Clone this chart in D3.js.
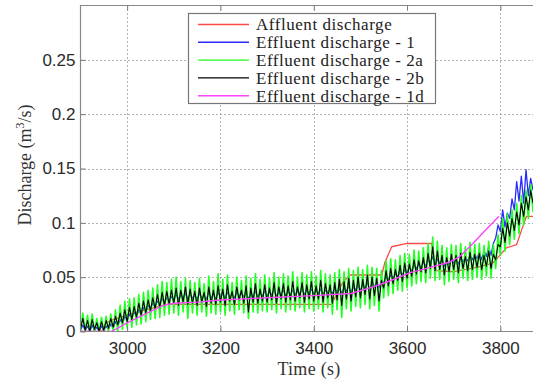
<!DOCTYPE html>
<html>
<head>
<meta charset="utf-8">
<script src="https://cdn.jsdelivr.net/npm/d3@7"></script>
<style>
  body { margin: 0; background: #fff; }
</style>
</head>
<body>
<script>
// sampled series: one value every dt seconds starting at t0
const t0 = 2900, dt = 5;

const effluent1 = [
  0.001, 0.006, 0.001, 0.005, 0.000, 0.006, 0.001, 0.004, 0.000, 0.005,
  0.001, 0.005, 0.002, 0.007, 0.003, 0.009, 0.005, 0.011, 0.007, 0.014,
  0.010, 0.016, 0.012, 0.018, 0.014, 0.020, 0.016, 0.022, 0.018, 0.024,
  0.021, 0.026, 0.023, 0.028, 0.025, 0.030, 0.027, 0.031, 0.028, 0.032,
  0.029, 0.034, 0.030, 0.033, 0.031, 0.035, 0.030, 0.034, 0.031, 0.033,
  0.030, 0.035, 0.031, 0.033, 0.030, 0.036, 0.031, 0.034, 0.030, 0.036,
  0.032, 0.035, 0.031, 0.036, 0.032, 0.034, 0.031, 0.036, 0.033, 0.035,
  0.032, 0.036, 0.030, 0.035, 0.032, 0.037, 0.032, 0.035, 0.033, 0.037,
  0.033, 0.036, 0.034, 0.038, 0.033, 0.036, 0.034, 0.038, 0.033, 0.037,
  0.034, 0.038, 0.034, 0.037, 0.035, 0.039, 0.034, 0.038, 0.035, 0.039,
  0.035, 0.038, 0.035, 0.039, 0.034, 0.038, 0.036, 0.039, 0.035, 0.040,
  0.036, 0.041, 0.035, 0.040, 0.037, 0.042, 0.036, 0.041, 0.038, 0.043,
  0.038, 0.043, 0.040, 0.045, 0.039, 0.044, 0.041, 0.045, 0.040, 0.046,
  0.045, 0.050, 0.047, 0.052, 0.049, 0.053, 0.051, 0.055, 0.052, 0.057,
  0.054, 0.059, 0.056, 0.061, 0.058, 0.062, 0.059, 0.064, 0.060, 0.066,
  0.063, 0.069, 0.061, 0.067, 0.062, 0.066, 0.060, 0.065, 0.062, 0.067,
  0.063, 0.067, 0.062, 0.068, 0.064, 0.068, 0.065, 0.070, 0.066, 0.071,
  0.067, 0.073, 0.066, 0.074, 0.069, 0.078, 0.070, 0.081, 0.086, 0.098,
  0.092, 0.112, 0.096, 0.109, 0.104, 0.122, 0.112, 0.138, 0.120, 0.143,
  0.118, 0.149, 0.125, 0.141, 0.130
];

const effluent2a = [
  0.000, 0.017, 0.000, 0.015, 0.000, 0.016, 0.000, 0.012, 0.000, 0.013,
  0.000, 0.014, 0.000, 0.016, 0.000, 0.020, 0.000, 0.024, 0.002, 0.028,
  0.003, 0.030, 0.004, 0.031, 0.006, 0.034, 0.007, 0.036, 0.009, 0.038,
  0.011, 0.040, 0.012, 0.043, 0.013, 0.046, 0.015, 0.045, 0.016, 0.048,
  0.017, 0.050, 0.015, 0.046, 0.018, 0.049, 0.012, 0.047, 0.017, 0.045,
  0.015, 0.049, 0.018, 0.044, 0.014, 0.051, 0.017, 0.046, 0.016, 0.053,
  0.018, 0.048, 0.015, 0.052, 0.019, 0.045, 0.016, 0.050, 0.020, 0.047,
  0.017, 0.051, 0.012, 0.049, 0.018, 0.053, 0.017, 0.048, 0.019, 0.052,
  0.018, 0.049, 0.020, 0.054, 0.017, 0.050, 0.021, 0.053, 0.018, 0.051,
  0.020, 0.055, 0.019, 0.050, 0.022, 0.054, 0.018, 0.052, 0.021, 0.055,
  0.019, 0.051, 0.021, 0.056, 0.018, 0.053, 0.022, 0.052, 0.016, 0.054,
  0.020, 0.057, 0.013, 0.055, 0.021, 0.058, 0.019, 0.056, 0.023, 0.059,
  0.022, 0.057, 0.025, 0.061, 0.021, 0.059, 0.024, 0.058, 0.019, 0.056,
  0.031, 0.065, 0.033, 0.067, 0.035, 0.066, 0.038, 0.070, 0.037, 0.072,
  0.040, 0.071, 0.042, 0.075, 0.044, 0.074, 0.046, 0.077, 0.045, 0.081,
  0.049, 0.087, 0.047, 0.083, 0.048, 0.079, 0.043, 0.077, 0.046, 0.080,
  0.048, 0.079, 0.045, 0.081, 0.049, 0.078, 0.047, 0.082, 0.048, 0.080,
  0.050, 0.081, 0.048, 0.079, 0.051, 0.083, 0.049, 0.080, 0.058, 0.089,
  0.070, 0.104, 0.074, 0.108, 0.080, 0.112, 0.085, 0.118, 0.090, 0.125,
  0.098, 0.130, 0.104, 0.135, 0.110
];

const effluent2b = [
  0.002, 0.012, 0.001, 0.010, 0.000, 0.011, 0.002, 0.008, 0.000, 0.009,
  0.001, 0.010, 0.003, 0.012, 0.004, 0.014, 0.006, 0.017, 0.008, 0.020,
  0.009, 0.022, 0.011, 0.023, 0.013, 0.026, 0.015, 0.028, 0.017, 0.029,
  0.019, 0.031, 0.021, 0.034, 0.022, 0.036, 0.024, 0.037, 0.025, 0.038,
  0.026, 0.040, 0.024, 0.038, 0.027, 0.041, 0.025, 0.039, 0.026, 0.037,
  0.024, 0.040, 0.027, 0.036, 0.023, 0.041, 0.026, 0.038, 0.025, 0.042,
  0.027, 0.039, 0.024, 0.043, 0.028, 0.037, 0.025, 0.041, 0.029, 0.038,
  0.026, 0.042, 0.018, 0.040, 0.027, 0.044, 0.026, 0.039, 0.028, 0.043,
  0.027, 0.040, 0.029, 0.045, 0.026, 0.041, 0.030, 0.044, 0.027, 0.042,
  0.029, 0.046, 0.028, 0.041, 0.031, 0.045, 0.027, 0.043, 0.030, 0.046,
  0.028, 0.042, 0.030, 0.047, 0.027, 0.044, 0.031, 0.043, 0.026, 0.045,
  0.029, 0.048, 0.024, 0.046, 0.030, 0.049, 0.028, 0.047, 0.032, 0.050,
  0.031, 0.048, 0.034, 0.052, 0.030, 0.050, 0.033, 0.049, 0.028, 0.047,
  0.040, 0.056, 0.042, 0.058, 0.044, 0.057, 0.047, 0.061, 0.046, 0.063,
  0.049, 0.062, 0.051, 0.066, 0.053, 0.065, 0.055, 0.068, 0.054, 0.072,
  0.058, 0.078, 0.056, 0.074, 0.057, 0.070, 0.052, 0.068, 0.055, 0.071,
  0.057, 0.070, 0.054, 0.072, 0.058, 0.069, 0.056, 0.073, 0.057, 0.071,
  0.059, 0.072, 0.057, 0.070, 0.060, 0.074, 0.058, 0.071, 0.066, 0.080,
  0.078, 0.095, 0.082, 0.100, 0.088, 0.104, 0.093, 0.110, 0.098, 0.118,
  0.106, 0.124, 0.112, 0.130, 0.118
];

// [time, discharge]
const affluent = [
  [2900, 0], [2945, 0], [2955, 0.008], [2970, 0.011], [3000, 0.015],
  [3040, 0.020], [3085, 0.025], [3200, 0.025], [3300, 0.025], [3438, 0.025],
  [3462, 0.045], [3477, 0.052], [3546, 0.052], [3552, 0.063], [3567, 0.078],
  [3600, 0.081], [3653, 0.081], [3662, 0.056], [3700, 0.055], [3750, 0.059],
  [3784, 0.063], [3813, 0.077], [3835, 0.080], [3846, 0.094], [3856, 0.106],
  [3870, 0.106]
];

const effluent1d = [
  [2900, 0], [2966, 0], [3000, 0.008], [3034, 0.015], [3077, 0.024],
  [3100, 0.026], [3150, 0.027], [3200, 0.029], [3300, 0.031], [3400, 0.033],
  [3480, 0.035], [3527, 0.041], [3560, 0.046], [3606, 0.054], [3650, 0.059],
  [3692, 0.064], [3713, 0.069], [3741, 0.081], [3770, 0.094], [3797, 0.106]
];

const seriesNames = ["Affluent discharge", "Effluent discharge - 1", "Effluent discharge - 2a",
  "Effluent discharge - 2b", "Effluent discharge - 1d"];
const seriesColors = ["#ff4a4a", "#2a2aff", "#22ff22", "#000000", "#ff44ff"];

const xTicks = [3000, 3200, 3400, 3600, 3800];
const yTicks = [0, 0.05, 0.1, 0.15, 0.2, 0.25];
const yTickLabels = ["0", "0.05", "0.1", "0.15", "0.2", "0.25"];

const width = 533, height = 380;
const plotL = 80.5, plotR = 547, plotT = 5.5, plotB = 331.5;

const x = d3.scaleLinear().domain([2900, 3900]).range([plotL, plotR]);
const y = d3.scaleLinear().domain([0, 0.3]).range([plotB, plotT]);

const svg = d3.select("body").append("svg")
  .attr("width", width)
  .attr("height", height);

svg.append("defs").append("clipPath").attr("id", "plot")
  .append("rect")
  .attr("x", plotL).attr("y", plotT)
  .attr("width", plotR - plotL).attr("height", plotB - plotT);

// dotted grid
const grid = svg.append("g")
  .attr("stroke", "#666")
  .attr("stroke-width", 1)
  .attr("stroke-dasharray", "1,3");
grid.selectAll("line.v").data(xTicks).enter().append("line")
  .attr("x1", d => Math.round(x(d)) + 0.5).attr("x2", d => Math.round(x(d)) + 0.5)
  .attr("y1", plotT).attr("y2", plotB);
grid.selectAll("line.h").data(yTicks.slice(1)).enter().append("line")
  .attr("x1", plotL).attr("x2", plotR)
  .attr("y1", d => Math.round(y(d)) + 0.5).attr("y2", d => Math.round(y(d)) + 0.5);

// sampled series -> points
const sampled = arr => arr.map((v, i) => [t0 + i * dt, v]);
const allSeries = [affluent, sampled(effluent1), sampled(effluent2a), sampled(effluent2b), effluent1d];
const widths = [1.3, 1.3, 1.6, 1.1, 1.4];

const line = d3.line().x(d => x(d[0])).y(d => y(d[1]));

svg.append("g").attr("clip-path", "url(#plot)")
  .selectAll("path")
  .data(allSeries)
  .enter()
  .append("path")
  .attr("d", line)
  .attr("fill", "none")
  .attr("stroke", (d, i) => seriesColors[i])
  .attr("stroke-width", (d, i) => widths[i])
  .attr("stroke-linejoin", "round");

// axes (ticks inward, matlab style)
const tickFont = "'Liberation Sans', Arial, sans-serif";

const xAxis = svg.append("g")
  .attr("transform", `translate(0,${plotB})`)
  .call(d3.axisBottom(x).tickValues(xTicks).tickSize(-5).tickSizeOuter(0).tickPadding(10).tickFormat(d3.format("d")));
const yAxis = svg.append("g")
  .attr("transform", `translate(${plotL},0)`)
  .call(d3.axisLeft(y).tickValues(yTicks).tickSize(-5).tickSizeOuter(0).tickPadding(5)
    .tickFormat((d, i) => yTickLabels[i]));
const xTop = svg.append("g")
  .attr("transform", `translate(0,${plotT})`)
  .call(d3.axisTop(x).tickValues(xTicks).tickSize(-5).tickSizeOuter(0).tickFormat(""));

[xAxis, yAxis, xTop].forEach(g => {
  g.select(".domain").remove();
  g.selectAll(".tick line").attr("stroke", "#777");
  g.selectAll("text")
    .attr("fill", "#2a2a2a")
    .style("font-family", tickFont)
    .style("font-size", "17px");
});

// axes box (right side runs off the picture)
svg.append("path")
  .attr("d", `M${width + 2},${plotT}H${plotL}V${plotB}H${width + 2}`)
  .attr("fill", "none")
  .attr("stroke", "#888")
  .attr("stroke-width", 1.2);

// axis titles
const serif = "'Liberation Serif', 'Times New Roman', serif";
svg.append("text")
  .attr("x", 309)
  .attr("y", 375)
  .attr("text-anchor", "middle")
  .style("font-family", serif)
  .style("font-size", "18px")
  .style("letter-spacing", "0.3px")
  .attr("fill", "#333")
  .text("Time (s)");

const ylab = svg.append("text")
  .attr("transform", "translate(31,165) rotate(-90)")
  .attr("text-anchor", "middle")
  .style("font-family", serif)
  .style("font-size", "18px")
  .attr("fill", "#333");
ylab.append("tspan").text("Discharge (m");
ylab.append("tspan").attr("dy", -7).style("font-size", "12px").text("3");
ylab.append("tspan").attr("dy", 7).text("/s)");

// legend
const legend = svg.append("g");
legend.append("rect")
  .attr("x", 188.5).attr("y", 13.5)
  .attr("width", 247).attr("height", 90)
  .attr("fill", "#fff")
  .attr("stroke", "#777")
  .attr("stroke-width", 1.2);

const rows = legend.selectAll("g.row")
  .data(seriesNames)
  .enter()
  .append("g")
  .attr("transform", (d, i) => `translate(0,${24.5 + i * 17.8})`);
rows.append("line")
  .attr("x1", 198).attr("x2", 249)
  .attr("stroke", (d, i) => seriesColors[i])
  .attr("stroke-width", 1.4);
rows.append("text")
  .attr("x", 256)
  .attr("dy", "0.35em")
  .style("font-family", serif)
  .style("font-size", "17px")
  .style("letter-spacing", "0.55px")
  .attr("fill", "#222")
  .text(d => d);
</script>
</body>
</html>
